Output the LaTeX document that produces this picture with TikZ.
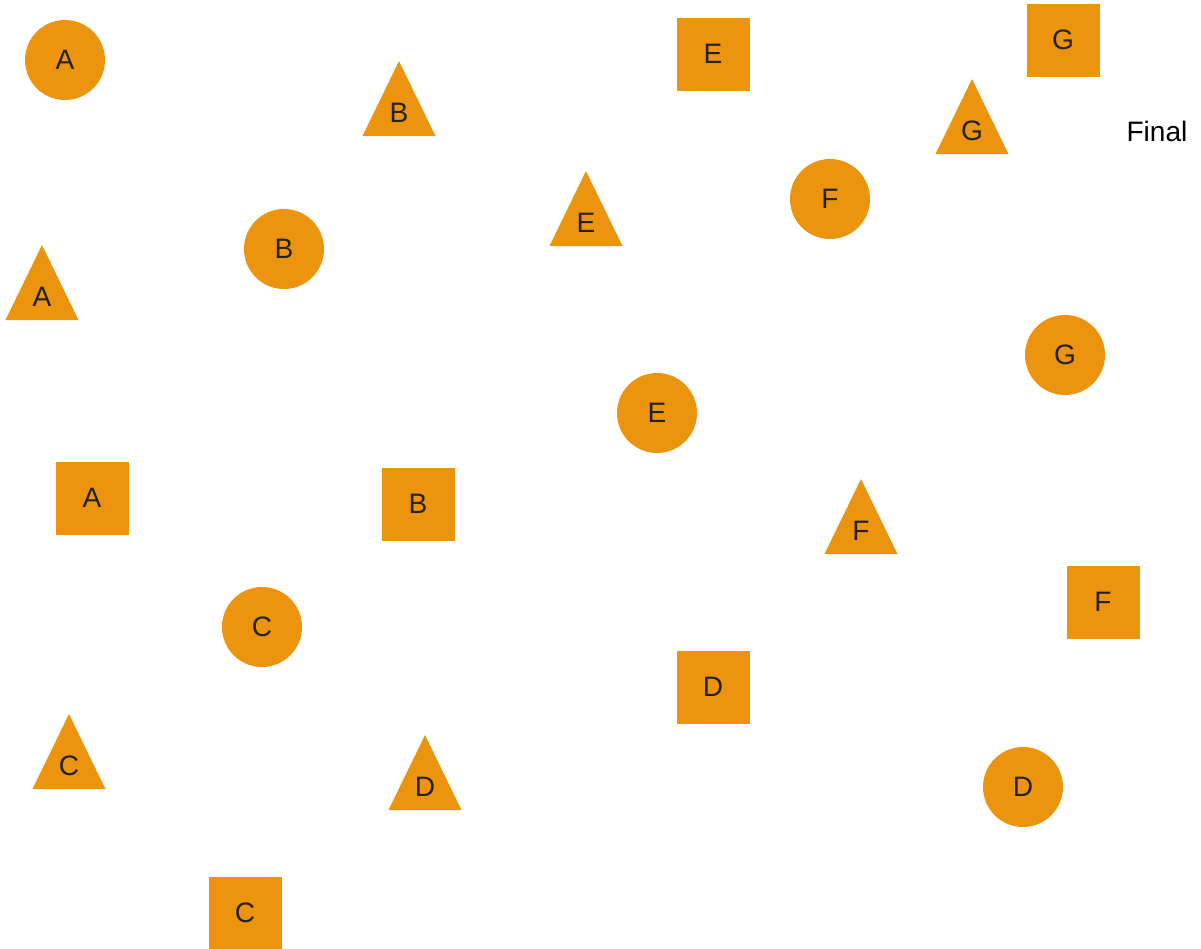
\documentclass[tikz,border=0pt]{standalone}
\usepackage{fontspec}
\setmainfont{Liberation Sans}
\usepackage{xcolor}
\definecolor{shapeorange}{RGB}{237,148,14}
\definecolor{labelgray}{RGB}{34,34,34}
% triangle: name, apex x, apex y, label
\newcommand{\tri}[4]{%
  \fill[shapeorange] (#2-36.5,#3+75) -- (#2,#3) -- (#2+36.5,#3+75) -- cycle;
  \node[lbl] (#1) at (#2,#3+52) {#4};}

\begin{document}
\begin{tikzpicture}[x=0.02cm, y=-0.02cm,
    lbl/.style={text=labelgray, font=\fontsize{16}{18}\selectfont, inner sep=0pt},
    circ/.style={circle, fill=shapeorange, minimum size=80*0.02cm, lbl},
    sq/.style={rectangle, fill=shapeorange, minimum size=73*0.02cm, lbl}
]
    \useasboundingbox (0,0) rectangle (1201,948);

    % circles
    \node[circ] (cA) at (65,60) {A};
    \node[circ] (cB) at (284,249) {B};
    \node[circ] (cC) at (262,627) {C};
    \node[circ] (cD) at (1023,787) {D};
    \node[circ] (cE) at (657,413) {E};
    \node[circ] (cF) at (830,199) {F};
    \node[circ] (cG) at (1065,355) {G};

    % squares
    \node[sq] (sA) at (92,498) {A};
    \node[sq] (sB) at (418,504) {B};
    \node[sq] (sC) at (245,913) {C};
    \node[sq] (sD) at (713,687) {D};
    \node[sq] (sE) at (713,54) {E};
    \node[sq] (sF) at (1103,602) {F};
    \node[sq] (sG) at (1063,40) {G};

    % triangles
    \tri{tA}{42}{245}{A}
    \tri{tB}{399}{61}{B}
    \tri{tC}{69}{714}{C}
    \tri{tD}{425}{735}{D}
    \tri{tE}{586}{171}{E}
    \tri{tF}{861}{479}{F}
    \tri{tG}{972}{79}{G}

    \node[lbl, text=black] (final) at (1157,131) {Final};
\end{tikzpicture}
\end{document}
